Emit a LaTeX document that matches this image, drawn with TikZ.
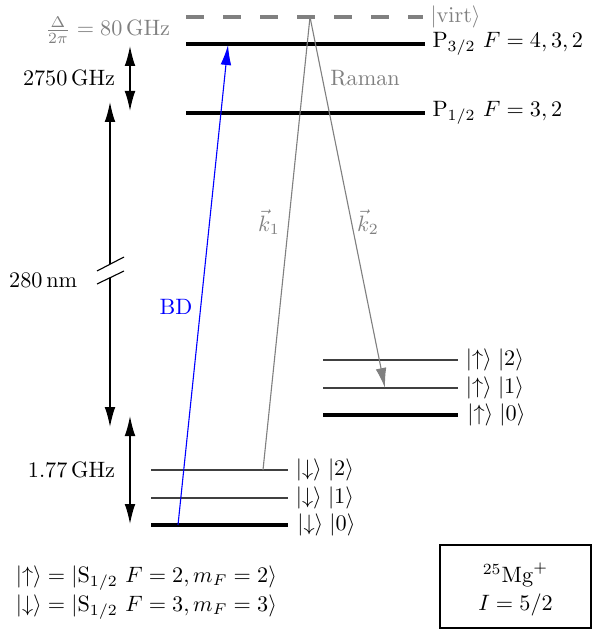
\documentclass[tikz,border=0pt]{standalone}
\usetikzlibrary{arrows.meta}
\begin{document}
\begin{tikzpicture}[x=0.45pt, y=-0.45pt,
  level/.style={line width=1.8pt},
  sublevel/.style={line width=0.5pt, black!75},
  gap/.style={line width=0.6pt, {Latex[length=9pt,width=4.8pt]}-{Latex[length=9pt,width=4.8pt]}},
  halfgap/.style={line width=0.6pt, -{Latex[length=9pt,width=4.8pt]}},
  beam/.style={line width=0.5pt, -{Latex[length=9pt,width=4.8pt]}}]
  \useasboundingbox (0,0) rectangle (595,629);

  % excited manifold
  \draw[black!50, line width=1.8pt, dash pattern=on 8.1pt off 8.55pt] (186,17) -- (423,17)
    node[right, black!50, inner sep=2.5pt] (virtlab) {$|\mathrm{virt}\rangle$};
  \draw[level] (186,44) -- (425,44) node[right, inner sep=2.5pt] (p32) {$\mathrm{P}_{3/2}\ F=4,3,2$};
  \draw[level] (186,113) -- (425,113) node[right, inner sep=2.5pt] (p12) {$\mathrm{P}_{1/2}\ F=3,2$};

  % ground manifold, up
  \draw[sublevel] (323,360) -- (458,360) node[right, black] (up2) {$|{\uparrow}\rangle\;|2\rangle$};
  \draw[sublevel] (323,388) -- (458,388) node[right, black] (up1) {$|{\uparrow}\rangle\;|1\rangle$};
  \draw[level] (323,415) -- (458,415) node[right] (up0) {$|{\uparrow}\rangle\;|0\rangle$};

  % ground manifold, down
  \draw[sublevel] (151,470) -- (288,470) node[right, black] (dn2) {$|{\downarrow}\rangle\;|2\rangle$};
  \draw[sublevel] (151,498) -- (288,498) node[right, black] (dn1) {$|{\downarrow}\rangle\;|1\rangle$};
  \draw[level] (151,525) -- (288,525) node[right] (dn0) {$|{\downarrow}\rangle\;|0\rangle$};

  % splittings
  \node[black!50, anchor=east] (det) at (178,30) {$\frac{\Delta}{2\pi}=80\,\mathrm{GHz}$};
  \coordinate (fsTop) at (130,46);
  \coordinate (fsBot) at (130,111);
  \draw[gap] (fsTop) -- (fsBot);
  \node[anchor=east] (fslab) at (123,78) {$2750\,\mathrm{GHz}$};

  \coordinate (nmTop) at (110,102);
  \coordinate (nmBot) at (110,427);
  \coordinate (brkA) at (110,264.3);
  \coordinate (brkB) at (110,277.7);
  \draw[halfgap] (brkA) -- (nmTop);
  \draw[halfgap] (brkB) -- (nmBot);
  \draw[line width=0.5pt] (97,271) -- (124,257);
  \draw[line width=0.5pt] (97,284) -- (124,271);
  \node[anchor=east] (nmlab) at (85,280) {$280\,\mathrm{nm}$};

  \coordinate (hfTop) at (130,416);
  \coordinate (hfBot) at (130,524);
  \draw[gap] (hfTop) -- (hfBot);
  \node[anchor=east] (hflab) at (123,470) {$1.77\,\mathrm{GHz}$};

  % lasers
  \coordinate (bdA) at (178,525);
  \coordinate (bdB) at (228,45);
  \draw[beam, blue] (bdA) -- (bdB);
  \node[blue] (bdlab) at (176,307) {BD};

  \coordinate (virt) at (310,17);
  \coordinate (ramA) at (263,470);
  \coordinate (ramB) at (385,388);
  \draw[line width=0.5pt, black!50] (ramA) -- (virt);
  \draw[beam, black!50] (virt) -- (ramB);
  \node[black!50] (k1) at (269,222) {$\vec{k}_1$};
  \node[black!50] (k2) at (368,222) {$\vec{k}_2$};
  \node[black!50] (raman) at (365,78) {Raman};

  % qubit definition
  \node[anchor=west] (updef) at (8,578) {$|{\uparrow}\rangle=|\mathrm{S}_{1/2}\ F=2,m_F=2\rangle$};
  \node[anchor=west] (dndef) at (8,607) {$|{\downarrow}\rangle=|\mathrm{S}_{1/2}\ F=3,m_F=3\rangle$};

  % ion
  \draw[line width=0.5pt] (440,545) rectangle (591,628);
  \node (ion) at (515.5,575) {$^{25}\mathrm{Mg}^+$};
  \node (spin) at (515.5,605) {$I=5/2$};
\end{tikzpicture}
\end{document}
